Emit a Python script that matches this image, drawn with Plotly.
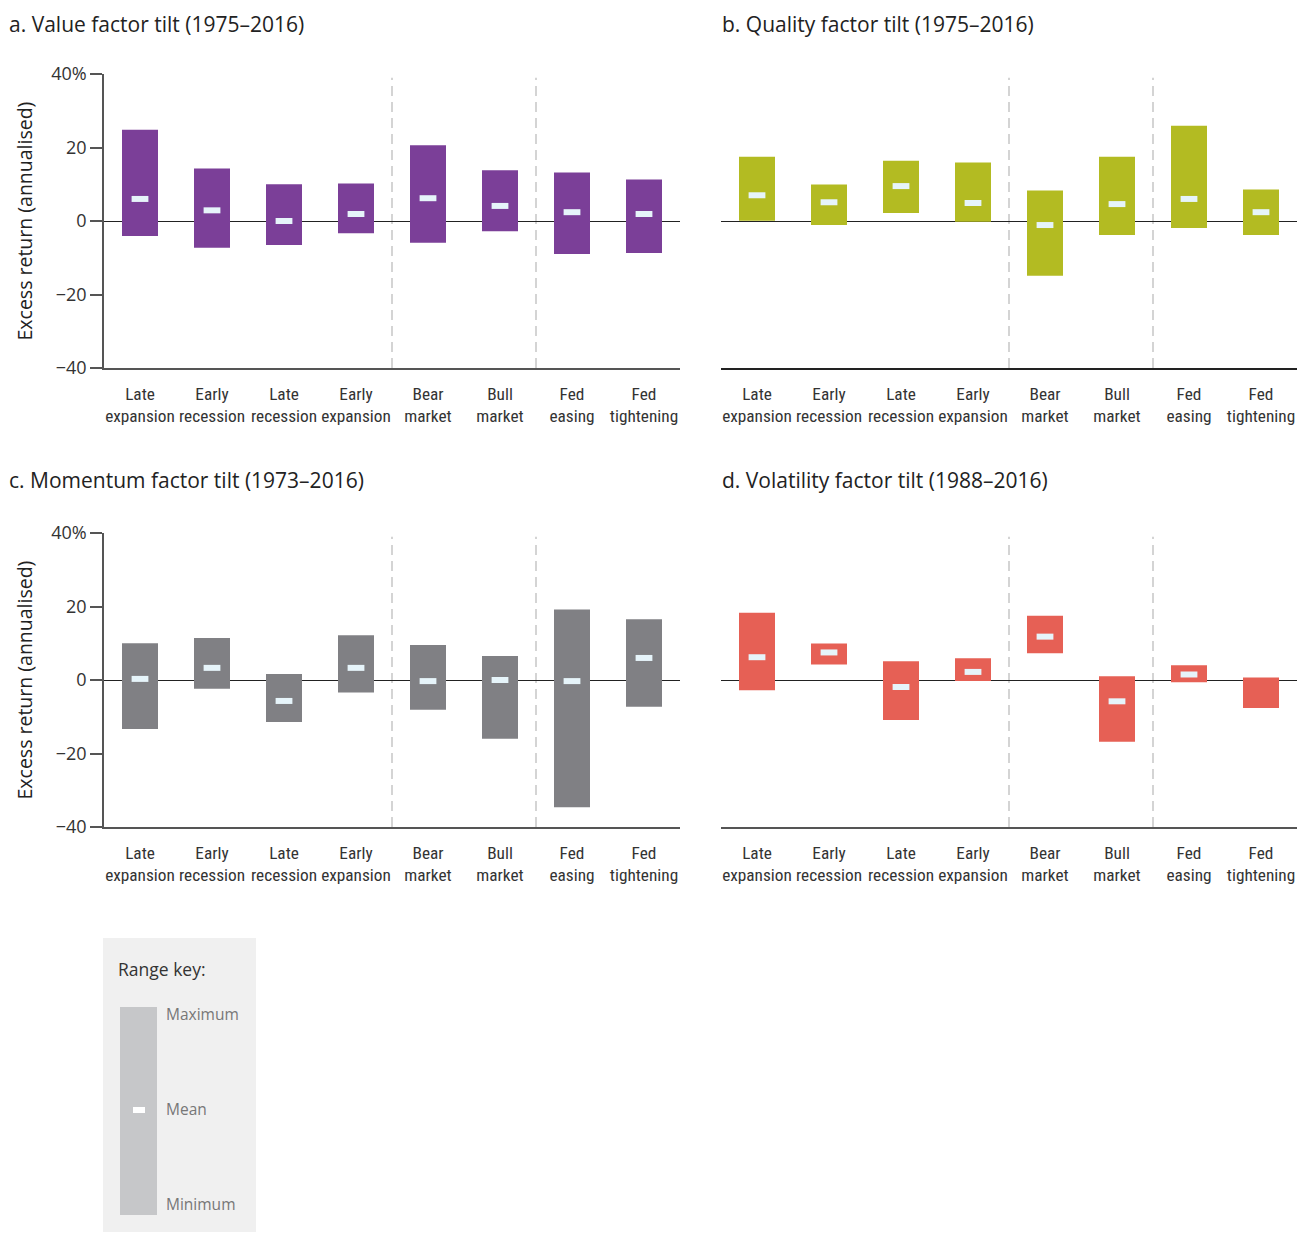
import plotly.graph_objects as go

W, H = 1313, 1233
OFF = 8  # page body margin compensation

categories = ["Late<br>expansion", "Early<br>recession", "Late<br>recession", "Early<br>expansion",
              "Bear<br>market", "Bull<br>market", "Fed<br>easing", "Fed<br>tightening"]

value_max = [24.8, 14.3, 10.0, 10.2, 20.6, 13.8, 13.2, 11.3]
value_min = [-4.1, -7.3, -6.5, -3.3, -5.9, -2.8, -9.0, -8.7]
value_mean = [6.0, 2.9, 0.0, 1.9, 6.2, 4.1, 2.4, 1.9]

quality_max = [17.5, 9.9, 16.4, 15.9, 8.3, 17.5, 25.9, 8.6]
quality_min = [0.1, -1.1, 2.2, -0.2, -14.9, -3.8, -1.9, -3.8]
quality_mean = [7.0, 5.1, 9.5, 4.9, -1.1, 4.6, 6.0, 2.4]

momentum_max = [10.0, 11.4, 1.6, 12.2, 9.5, 6.5, 19.2, 16.5]
momentum_min = [-13.3, -2.4, -11.4, -3.4, -8.1, -16.0, -34.6, -7.3]
momentum_mean = [0.3, 3.3, -5.7, 3.3, -0.3, 0.0, -0.3, 6.0]

volatility_max = [18.3, 9.9, 5.1, 5.9, 17.5, 1.0, 4.0, 0.7]
volatility_min = [-2.8, 4.2, -10.9, -0.3, 7.3, -16.8, -0.6, -7.6]
volatility_mean = [6.2, 7.5, -1.9, 2.2, 11.8, -5.8, 1.5, None]

titles = ["a. Value factor tilt (1975\u20132016)", "b. Quality factor tilt (1975\u20132016)",
          "c. Momentum factor tilt (1973\u20132016)", "d. Volatility factor tilt (1988\u20132016)"]
colors = ["#7b3f98", "#b3bb22", "#808084", "#e66055"]

y_ticks = [-40, -20, 0, 20, 40]
y_ticktext = ["\u221240", "\u221220", "0", "20", "40%"]

panels = [
    (value_max, value_min, value_mean),
    (quality_max, quality_min, quality_mean),
    (momentum_max, momentum_min, momentum_mean),
    (volatility_max, volatility_min, volatility_mean),
]


def px_x(x):
    return (x - OFF) / W


def px_y(y):
    return 1 - (y - OFF) / H


x_domains = [(104, 680), (721, 1297)]
y_domains = [(74, 368), (533, 827)]

cond_font = "Roboto Condensed, Noto Sans Condensed, DejaVu Sans Condensed, sans-serif"
main_font = "Open Sans, Noto Sans, Liberation Sans, sans-serif"

fig = go.Figure()
xpos = list(range(len(categories)))

for i, (mx, mn, me) in enumerate(panels):
    suffix = "" if i == 0 else str(i + 1)
    xa = "x" + suffix
    ya = "y" + suffix
    fig.add_trace(go.Bar(
        x=xpos, y=[a - b for a, b in zip(mx, mn)], base=mn,
        width=0.5, marker=dict(color=colors[i], line=dict(width=0)),
        xaxis=xa, yaxis=ya, showlegend=False, hoverinfo="skip"))
    fig.add_trace(go.Scatter(
        x=xpos, y=me, mode="markers",
        marker=dict(symbol="line-ew", size=12, line=dict(width=6, color="#e6f4fa")),
        xaxis=xa, yaxis=ya, showlegend=False, hoverinfo="skip"))

    col = i % 2
    row = i // 2
    xd = x_domains[col]
    yd = y_domains[row]
    first_col = col == 0
    fig.layout["xaxis" + suffix] = dict(
        domain=[px_x(xd[0]), px_x(xd[1])], anchor=ya, automargin=False,
        range=[-0.5, 7.5], tickvals=xpos, ticktext=categories, tickangle=0,
        showline=True, linecolor="#555555" if (first_col or i == 3) else "#222222", linewidth=1.5,
        ticks="", showgrid=False, zeroline=False, ticklabelstandoff=9,
        tickfont=dict(family=cond_font, size=17.3, color="#333333"))
    fig.layout["yaxis" + suffix] = dict(
        domain=[px_y(yd[1]), px_y(yd[0])], anchor=xa, automargin=False,
        range=[-40, 40], tickvals=y_ticks, ticktext=y_ticktext,
        showline=first_col, linecolor="#555555", linewidth=1.5,
        ticks="outside" if first_col else "", ticklen=12, tickcolor="#555555", tickwidth=1.5,
        showticklabels=first_col, showgrid=False,
        zeroline=True, zerolinecolor="#222222", zerolinewidth=1.2,
        tickfont=dict(family=main_font, size=18, color="#333333"))

    for xv in (3.5, 5.5):
        fig.add_shape(type="line", xref=xa, yref=ya, x0=xv, x1=xv, y0=-40, y1=39,
                      line=dict(color="#d4d4d4", width=2, dash="10px,6px"), layer="below")

    tx = 7 if first_col else 720
    if row == 0:
        fig.add_annotation(text=titles[i], xref="paper", yref="paper", x=px_x(tx), y=1.0,
                           xanchor="left", yanchor="top", showarrow=False,
                           font=dict(family=main_font, size=21, color="#222222"))
    else:
        fig.add_annotation(text=titles[i], xref="paper", yref="paper", x=px_x(tx), y=px_y(480),
                           xanchor="left", yanchor="middle", showarrow=False,
                           font=dict(family=main_font, size=21, color="#222222"))
    if first_col:
        cy = 221 if row == 0 else 680
        fig.add_annotation(text="Excess return (annualised)", xref="paper", yref="paper",
                           x=0.0, y=px_y(cy), textangle=-90, showarrow=False,
                           xanchor="left", yanchor="middle",
                           font=dict(family=main_font, size=19.5, color="#222222"))

# Range key box
fig.add_shape(type="rect", xref="paper", yref="paper", x0=px_x(103), x1=px_x(256),
              y0=px_y(1232), y1=px_y(938), fillcolor="#f0f0f0", line=dict(width=0))
fig.add_shape(type="rect", xref="paper", yref="paper", x0=px_x(120), x1=px_x(157),
              y0=px_y(1215), y1=px_y(1007), fillcolor="#c6c7c9", line=dict(width=0))
fig.add_shape(type="rect", xref="paper", yref="paper", x0=px_x(133), x1=px_x(145),
              y0=px_y(1113), y1=px_y(1107), fillcolor="#ffffff", line=dict(width=0))
fig.add_annotation(text="Range key:", xref="paper", yref="paper", x=px_x(116), y=px_y(969),
                   xanchor="left", yanchor="middle", showarrow=False,
                   font=dict(family=main_font, size=17.5, color="#333333"))
for label, yy in (("Maximum", 1014), ("Mean", 1109), ("Minimum", 1204)):
    fig.add_annotation(text=label, xref="paper", yref="paper", x=px_x(164), y=px_y(yy),
                       xanchor="left", yanchor="middle", showarrow=False,
                       font=dict(family=main_font, size=15.5, color="#777777"))

fig.update_layout(width=W, height=H, margin=dict(l=0, r=0, t=0, b=0, autoexpand=False),
                  paper_bgcolor="white", plot_bgcolor="white", bargap=0.5)

fig.write_html("out.html")
